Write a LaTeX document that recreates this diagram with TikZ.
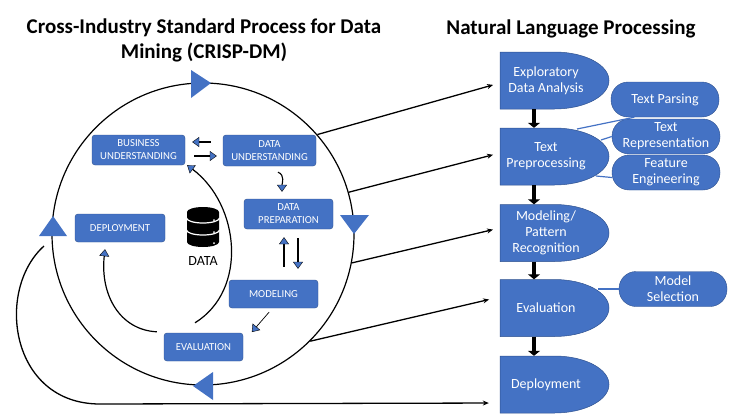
\documentclass[tikz,border=0pt]{standalone}
\usepackage{fontspec}
\setmainfont{Carlito}
\usetikzlibrary{arrows.meta, calc}
\definecolor{boxblue}{HTML}{4472C4}
\definecolor{boxedge}{HTML}{2F528F}
\tikzset{
    phasebox/.style={draw=boxedge, fill=boxblue, rounded corners=3pt, inner sep=0pt,
        text=white, align=center, font=\fontsize{10.7}{13}\selectfont},
    delaybox/.style={inner sep=0pt, minimum width=109pt, minimum height=57pt},
    delaytext/.style={inner sep=0pt, text=white, align=center, font=\fontsize{14}{16.3}\selectfont},
    pillbox/.style={draw=boxedge, fill=boxblue, rounded corners=17pt, inner sep=0pt,
        minimum width=108pt, minimum height=35pt,
        text=white, align=center, font=\fontsize{14}{16}\selectfont},
    bigtri/.style={fill=boxblue},
    phasearrow/.style={line width=1.1pt, -{Triangle[fill=boxblue, length=7pt, width=10pt, line width=.4pt]}},
    linkarrow/.style={line width=1.3pt, -{Stealth[length=6pt, width=5pt]}},
    downarrow/.style={line width=4.5pt, -{Triangle[length=5pt, width=12pt]}},
    sideline/.style={draw=boxblue, line width=1.2pt},
}
% x in px, y in px from the top
\newcommand{\delayshape}[3]{
    \fill[boxblue, draw=boxedge, line width=.5pt] (500, #2-28.5) -- (554.5, #2-28.5)
        arc[start angle=90, end angle=-90, x radius=54.5pt, y radius=28.5pt]
        -- (500, #2+28.5) -- cycle;
    \node[delaybox] (#1) at (554.5, #2) {};
    \node[delaytext] (#1text) at (546, #2) {#3};
}
\begin{document}
\begin{tikzpicture}[x=1pt, y=-1pt]
    \useasboundingbox (0, 0) rectangle (734, 413);
    \node[font=\fontsize{21}{25}\bfseries, align=center] (crisptitle) at (204, 40)
        {Cross-Industry Standard Process for Data\\Mining (CRISP-DM)};
    \node[font=\fontsize{21}{25}\bfseries] (nlptitle) at (571, 29) {Natural Language Processing};

    \node[circle, draw, line width=1.2pt, minimum size=302pt, inner sep=0pt] (crisp) at (203, 234) {};

    % triangles on the ring
    \fill[bigtri] (191, 70) -- (211, 83) -- (191, 98) -- cycle;
    \fill[bigtri] (340, 215) -- (369, 215) -- (354, 234) -- cycle;
    \fill[bigtri] (193, 386) -- (213, 372) -- (213, 400) -- cycle;
    \fill[bigtri] (53, 216) -- (67, 236) -- (39, 236) -- cycle;

    % crisp phases
    \node[phasebox, minimum width=93pt, minimum height=30pt] (bu) at (138.5, 150) {BUSINESS\\UNDERSTANDING};
    \node[phasebox, minimum width=93pt, minimum height=31pt] (du) at (269.5, 150.5) {DATA\\UNDERSTANDING};
    \node[phasebox, minimum width=89pt, minimum height=30pt] (dp) at (288.5, 214) {DATA\\PREPARATION};
    \node[phasebox, minimum width=90pt, minimum height=28pt] (dep) at (120, 228) {DEPLOYMENT};
    \node[phasebox, minimum width=89pt, minimum height=28pt] (mod) at (273.5, 294) {MODELING};
    \node[phasebox, minimum width=79pt, minimum height=28pt] (eval) at (203.5, 347) {EVALUATION};

    % data icon
    \fill (187, 212) arc[start angle=180, end angle=0, x radius=16pt, y radius=5pt]
        -- (219, 242) arc[start angle=0, end angle=-180, x radius=16pt, y radius=5pt] -- cycle;
    \foreach \ypos in {218, 230}
        \draw[white, line width=1.2pt] (186.5, \ypos) arc[start angle=180, end angle=360, x radius=16.5pt, y radius=5pt];
    \foreach \ypos in {220, 232, 243}
        \fill[white] (214, \ypos) circle (1pt);
    \node[font=\fontsize{14}{16}\selectfont, inner sep=0pt] (datalabel) at (203, 261) {DATA};

    % crisp arrows
    \draw[phasearrow, shorten <=12pt, shorten >=7pt] ([yshift=8.5pt]du.west) -- ([yshift=8pt]bu.east);
    \draw[phasearrow, shorten <=9pt, shorten >=6pt] ([yshift=-6pt]bu.east) -- ([yshift=-5.5pt]du.west);
    \draw[phasearrow] ([xshift=8.5pt, yshift=-6pt]du.south) to[out=-20, in=90] ([xshift=-6.5pt, yshift=7pt]dp.north);
    \draw[phasearrow, shorten <=13pt, shorten >=8pt] (mod.north -| 284, 0) -- (dp.south -| 284, 0);
    \draw[phasearrow, shorten <=9pt, shorten >=11pt] (dp.south -| 298, 0) -- (mod.north -| 298, 0);
    \draw[phasearrow, line width=.7pt, shorten <=5pt, shorten >=1pt] ([xshift=-1pt]mod.south) -- ([xshift=8pt]eval.north east);
    \draw[phasearrow, line width=1.2pt] ([xshift=-8.5pt, yshift=10pt]eval.north) .. controls (248, 290) and (240, 205) .. ([xshift=2pt]bu.south east);
    \draw[phasearrow, line width=1.2pt] ([xshift=-7pt, yshift=1pt]eval.north west) .. controls (120, 330) and (100, 295) .. ([xshift=-15pt, yshift=-7pt]dep.south);

    % right column
    \delayshape{eda}{80.5}{Exploratory\\Data Analysis}
    \delayshape{prep}{156.5}{Text\\Preprocessing}
    \delayshape{pat}{233}{Modeling/\\Pattern\\Recognition}
    \delayshape{evl}{308}{Evaluation}
    \delayshape{depl}{384.5}{Deployment}

    \node[pillbox] (parse) at (665, 99.5) {Text Parsing};
    \node[pillbox] (repr) at (666, 136.5) {Text\\Representation};
    \node[pillbox] (feat) at (666, 172.5) {Feature\\Engineering};
    \node[pillbox] (sel) at (673, 289) {Model\\Selection};

    \coordinate (prepa) at (577, 129);
    \coordinate (prepb) at (601, 140);
    \coordinate (prepc) at (596, 176);
    \coordinate (evla) at (598, 289);
    \draw[sideline] (parse.210) -- (prepa);
    \draw[sideline] (repr.west) -- (prepb);
    \draw[sideline] ([yshift=-5pt]feat.west) -- (prepc);
    \draw[sideline] (sel.west) -- (evla);

    \foreach \from/\to in {eda/prep, prep/pat, pat/evl, evl/depl}
        \draw[downarrow] ([xshift=-20.5pt]\from.south) -- ([xshift=-20.5pt]\to.north);

    % ring to right column
    \draw[linkarrow, shorten >=7pt] (crisp.41) -- ([yshift=-2.5pt]eda.west);
    \draw[linkarrow, shorten >=7pt] (crisp.16) -- ([yshift=3.5pt]prep.west);
    \draw[linkarrow, shorten >=7pt] (crisp.-11) -- ([yshift=5pt]pat.west);
    \draw[linkarrow, shorten >=11pt] (crisp.-45) -- ([yshift=11pt]evl.west);
    \coordinate (loopstart) at (44, 246);
    \draw[linkarrow, shorten >=11pt] (loopstart) .. controls (-5, 290) and (10, 404) .. (100, 404) -- ([yshift=-18.5pt]depl.west);
\end{tikzpicture}
\end{document}
